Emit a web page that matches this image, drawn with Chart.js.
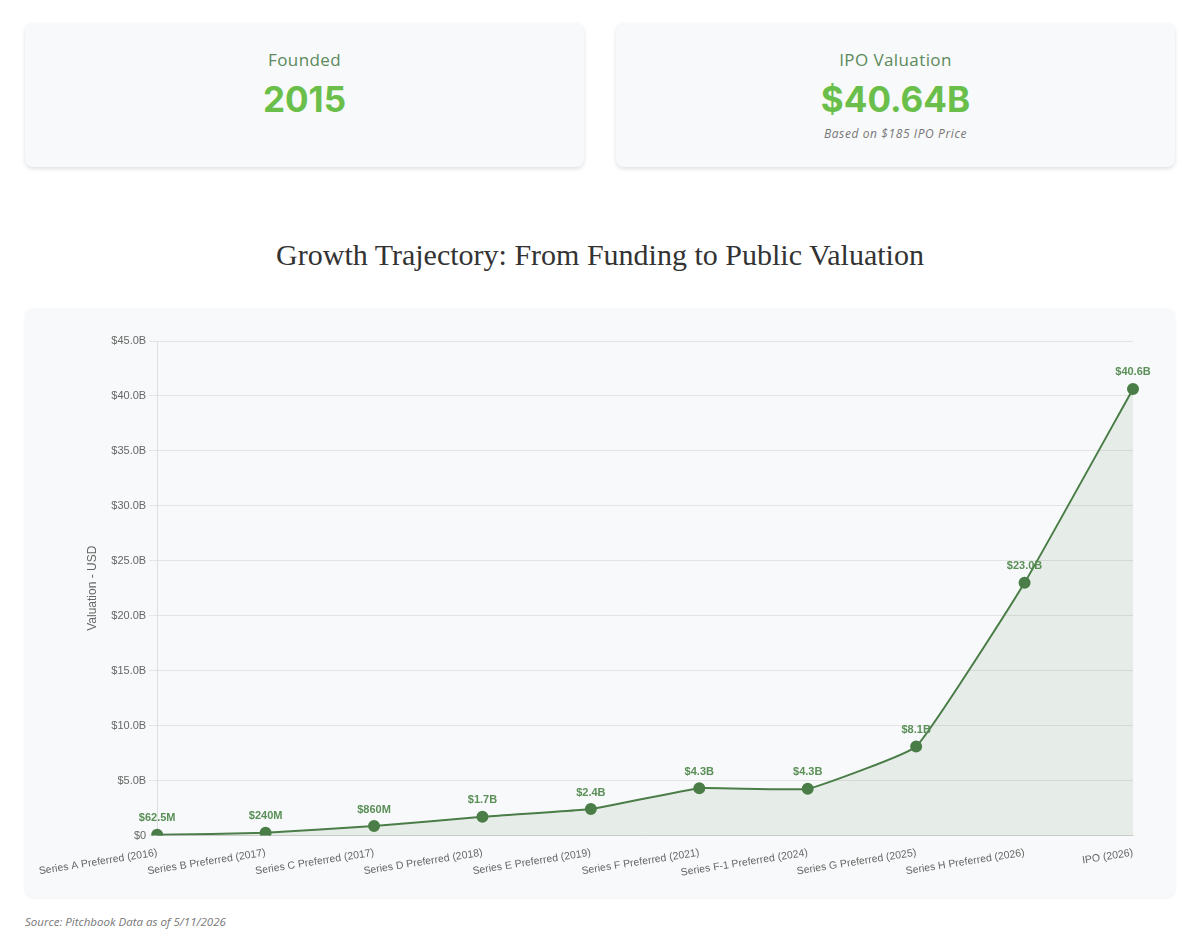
<!DOCTYPE html>
<html>
<head>
<meta charset="utf-8">
<script src="https://cdn.jsdelivr.net/npm/chart.js@4.4.1/dist/chart.umd.min.js"></script>
<style>
  body { margin: 0; background: #fff; font-family: 'Open Sans', sans-serif; }
  .wrap { width: 1150px; margin: 0 auto; padding-top: 23px; }
  .cards { display: flex; gap: 32px; }
  .card { flex: 1; height: 144px; background: #f8f9fa; border-radius: 8px;
          box-shadow: 0 2px 4px rgba(0,0,0,0.12); text-align: center; box-sizing: border-box; padding-top: 25px; }
  .card .lbl { font-size: 17px; color: #5b8a5b; letter-spacing: 0.4px; }
  .card .val { font-family: Inter, 'Open Sans', sans-serif; font-size: 35px; font-weight: 700; color: #6abf4b; margin-top: 7px; line-height: 42px; }
  .card .sub { font-size: 12px; font-style: italic; color: #777; margin-top: 5px; letter-spacing: 0.6px; }
  h2 { font-family: 'Liberation Serif', 'DejaVu Serif', serif; font-weight: 400; font-size: 30px; color: #333;
       text-align: center; margin: 70px 0 0 0; line-height: 36px; }
  .chartbox { margin-top: 35px; background: #f8f9fa; border-radius: 8px; height: 589px;
              box-shadow: 0 1px 3px rgba(0,0,0,0.06); padding: 20px 20px 15px 11px; box-sizing: border-box; position: relative; }
  .source { font-size: 11.5px; font-style: italic; color: #777; margin-top: 17px; }
</style>
</head>
<body>
<div class="wrap">
  <div class="cards">
    <div class="card"><div class="lbl">Founded</div><div class="val">2015</div></div>
    <div class="card"><div class="lbl">IPO Valuation</div><div class="val">$40.64B</div><div class="sub">Based on $185 IPO Price</div></div>
  </div>
  <h2>Growth Trajectory: From Funding to Public Valuation</h2>
  <div class="chartbox"><canvas id="growthChart"></canvas></div>
  <div class="source">Source: Pitchbook Data as of 5/11/2026</div>
</div>
<script>
const rounds = [
  'Series A Preferred (2016)', 'Series B Preferred (2017)', 'Series C Preferred (2017)',
  'Series D Preferred (2018)', 'Series E Preferred (2019)', 'Series F Preferred (2021)',
  'Series F-1 Preferred (2024)', 'Series G Preferred (2025)', 'Series H Preferred (2026)', 'IPO (2026)'
];
// valuations in billions USD
const valuations = [0.0625, 0.24, 0.86, 1.7, 2.4, 4.3, 4.25, 8.1, 23.0, 40.64];
const valueLabels = ['$62.5M', '$240M', '$860M', '$1.7B', '$2.4B', '$4.3B', '$4.3B', '$8.1B', '$23.0B', '$40.6B'];

const lineColor = '#4a7d47';

// simple inline value labels above each point
const pointLabels = {
  id: 'pointLabels',
  afterDatasetsDraw(chart) {
    const ctx = chart.ctx;
    const meta = chart.getDatasetMeta(0);
    ctx.save();
    ctx.font = 'bold 11px "Helvetica Neue", Helvetica, Arial, sans-serif';
    ctx.fillStyle = '#5a8f57';
    ctx.textAlign = 'center';
    ctx.textBaseline = 'bottom';
    meta.data.forEach((pt, i) => {
      ctx.fillText(valueLabels[i], pt.x, pt.y - 11);
    });
    ctx.restore();
  }
};

const canvasEl = document.getElementById('growthChart');

new Chart(canvasEl, {
  type: 'line',
  data: {
    labels: rounds,
    datasets: [{
      label: 'Valuation',
      data: valuations,
      borderColor: lineColor,
      backgroundColor: 'rgba(74, 125, 71, 0.1)',
      fill: true,
      tension: 0.1,
      borderWidth: 2,
      pointRadius: 5,
      pointHoverRadius: 6,
      pointBackgroundColor: lineColor,
      pointBorderColor: lineColor
    }]
  },
  options: {
    responsive: true,
    maintainAspectRatio: false,
    animation: false,
    layout: { padding: { left: 0, right: 22, top: 13, bottom: 0 } },
    plugins: {
      legend: { display: false },
      tooltip: { enabled: false }
    },
    scales: {
      y: {
        min: 0,
        max: 45,
        ticks: {
          stepSize: 5,
          color: '#666',
          font: { size: 11 },
          callback: v => v === 0 ? '$0' : '$' + v.toFixed(1) + 'B'
        },
        grid: { color: '#e4e4e4' },
        title: { display: true, text: 'Valuation - USD', color: '#666', font: { size: 12 }, padding: { top: 4, bottom: 8 } }
      },
      x: {
        grid: { display: false },
        ticks: { color: '#666', font: { size: 10.5 }, maxRotation: 9, minRotation: 9, autoSkip: false }
      }
    }
  },
  plugins: [pointLabels]
});
</script>
</body>
</html>
